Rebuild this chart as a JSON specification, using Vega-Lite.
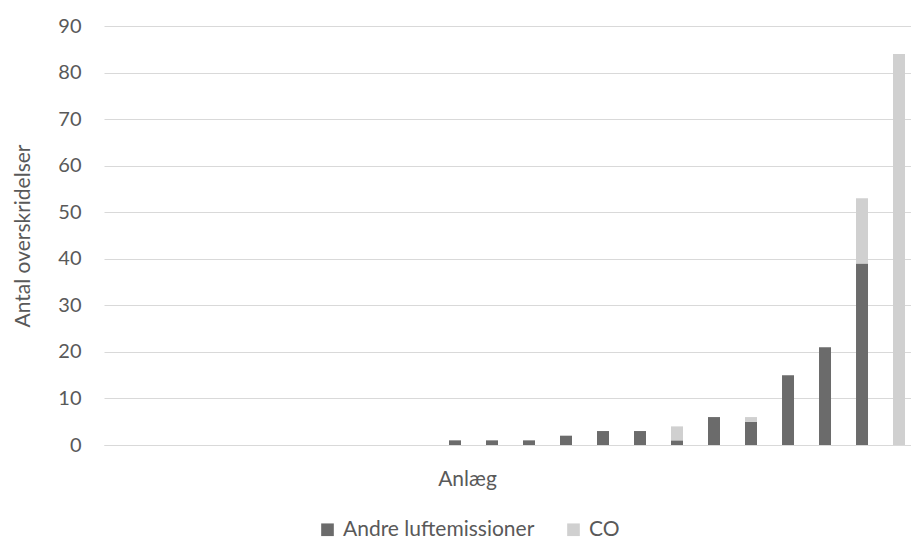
{
  "$schema": "https://vega.github.io/schema/vega-lite/v6.json",
  "autosize": {"type": "none"},
  "padding": {"left": 104, "top": 26, "right": 0, "bottom": 97},
  "width": 807,
  "height": 419,
  "background": "white",
  "config": {
    "font": "Lato",
    "view": {"stroke": null},
    "axis": {"labelFont": "Lato", "titleFont": "Lato", "labelColor": "#595959", "titleColor": "#595959", "titleFontWeight": "normal"},
    "legend": {"labelFont": "Lato", "labelColor": "#595959"}
  },
  "data": {
    "values": [
      {"anlaeg": 1, "serie": "Andre luftemissioner", "antal": 0},
      {"anlaeg": 2, "serie": "Andre luftemissioner", "antal": 0},
      {"anlaeg": 3, "serie": "Andre luftemissioner", "antal": 0},
      {"anlaeg": 4, "serie": "Andre luftemissioner", "antal": 0},
      {"anlaeg": 5, "serie": "Andre luftemissioner", "antal": 0},
      {"anlaeg": 6, "serie": "Andre luftemissioner", "antal": 0},
      {"anlaeg": 7, "serie": "Andre luftemissioner", "antal": 0},
      {"anlaeg": 8, "serie": "Andre luftemissioner", "antal": 0},
      {"anlaeg": 9, "serie": "Andre luftemissioner", "antal": 0},
      {"anlaeg": 10, "serie": "Andre luftemissioner", "antal": 1},
      {"anlaeg": 11, "serie": "Andre luftemissioner", "antal": 1},
      {"anlaeg": 12, "serie": "Andre luftemissioner", "antal": 1},
      {"anlaeg": 13, "serie": "Andre luftemissioner", "antal": 2},
      {"anlaeg": 14, "serie": "Andre luftemissioner", "antal": 3},
      {"anlaeg": 15, "serie": "Andre luftemissioner", "antal": 3},
      {"anlaeg": 16, "serie": "Andre luftemissioner", "antal": 1},
      {"anlaeg": 16, "serie": "CO", "antal": 3},
      {"anlaeg": 17, "serie": "Andre luftemissioner", "antal": 6},
      {"anlaeg": 18, "serie": "Andre luftemissioner", "antal": 5},
      {"anlaeg": 18, "serie": "CO", "antal": 1},
      {"anlaeg": 19, "serie": "Andre luftemissioner", "antal": 15},
      {"anlaeg": 20, "serie": "Andre luftemissioner", "antal": 21},
      {"anlaeg": 21, "serie": "Andre luftemissioner", "antal": 39},
      {"anlaeg": 21, "serie": "CO", "antal": 14},
      {"anlaeg": 22, "serie": "CO", "antal": 84}
    ]
  },
  "mark": {"type": "bar"},
  "encoding": {
    "x": {
      "field": "anlaeg",
      "type": "ordinal",
      "sort": "ascending",
      "scale": {"paddingInner": 0.676, "paddingOuter": 0.243, "align": 0.667},
      "axis": {
        "title": "Anlæg",
        "titleFontSize": 21,
        "titleX": 363,
        "titleY": 40,
        "titleAnchor": null,
        "titleAlign": "center",
        "titleBaseline": "alphabetic",
        "labels": false,
        "ticks": false,
        "domain": true,
        "domainColor": "#d9d9d9",
        "domainWidth": 1,
        "grid": false
      }
    },
    "y": {
      "field": "antal",
      "type": "quantitative",
      "stack": "zero",
      "scale": {"domain": [0, 90]},
      "axis": {
        "title": "Antal overskridelser",
        "titleFontSize": 21,
        "titlePadding": 24,
        "labelFontSize": 20,
        "labelPadding": 23,
        "values": [0, 10, 20, 30, 40, 50, 60, 70, 80, 90],
        "ticks": false,
        "domain": false,
        "gridColor": "#d9d9d9",
        "gridWidth": 1
      }
    },
    "color": {
      "field": "serie",
      "type": "nominal",
      "scale": {"domain": ["Andre luftemissioner", "CO"], "range": ["#6b6b6b", "#d0d0d0"]},
      "legend": {
        "title": null,
        "orient": "none",
        "direction": "horizontal",
        "legendX": 213,
        "legendY": 493,
        "symbolType": "square",
        "symbolSize": 160,
        "symbolStrokeWidth": 0,
        "labelFontSize": 21,
        "labelOffset": 5,
        "labelLimit": 0,
        "columnPadding": 28
      }
    },
    "order": {"field": "serie", "sort": "ascending"}
  }
}
